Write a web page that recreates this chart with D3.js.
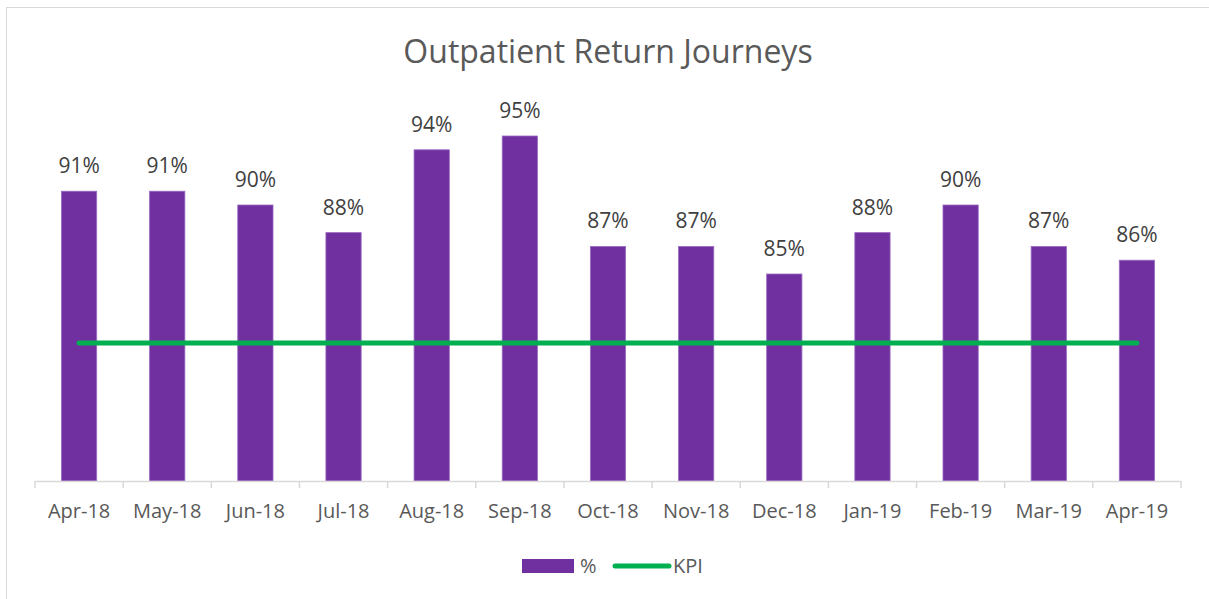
<!DOCTYPE html>
<html lang="en">
<head>
    <meta charset="UTF-8">
    <title>Outpatient Return Journeys</title>
    <script src="https://d3js.org/d3.v7.min.js"></script>
    <style>
        body { margin: 0; background: #fff; }
        text { font-family: "Open Sans", "Noto Sans", sans-serif; }
    </style>
</head>
<body>
    <svg id="chart" width="1209" height="599"></svg>
    <script>
        // Chart data
        const months = ["Apr-18", "May-18", "Jun-18", "Jul-18", "Aug-18", "Sep-18", "Oct-18",
            "Nov-18", "Dec-18", "Jan-19", "Feb-19", "Mar-19", "Apr-19"];
        const pctValues = [0.91, 0.91, 0.90, 0.88, 0.94, 0.95, 0.87, 0.87, 0.85, 0.88, 0.90, 0.87, 0.86];
        const kpiValues = [0.80, 0.80, 0.80, 0.80, 0.80, 0.80, 0.80, 0.80, 0.80, 0.80, 0.80, 0.80, 0.80];

        const purple = "#7030a0", green = "#00b050";
        const svg = d3.select("#chart");

        // chart border
        svg.append("rect")
            .attr("x", 6.5).attr("y", 7.5)
            .attr("width", 1240).attr("height", 640)
            .attr("fill", "none").attr("stroke", "#d9d9d9");

        const left = 35, right = 1181, baseY = 481;

        const x = d3.scaleBand()
            .domain(months)
            .range([left, right])
            .paddingInner(0.6)
            .paddingOuter(0.3);

        const y = d3.scaleLinear()
            .domain([0.7, 1.0])
            .range([baseY, baseY - 0.3 * 1380]);

        // Title
        svg.append("text")
            .attr("x", 608).attr("y", 63)
            .attr("text-anchor", "middle")
            .attr("font-size", 32)
            .attr("fill", "#595959")
            .text("Outpatient Return Journeys");

        // Bars
        svg.selectAll(".bar")
            .data(months)
            .enter().append("rect")
            .attr("class", "bar")
            .attr("x", d => x(d))
            .attr("y", (d, i) => y(pctValues[i]))
            .attr("width", x.bandwidth())
            .attr("height", (d, i) => baseY - y(pctValues[i]))
            .attr("fill", purple)
            .attr("stroke", "#9a6cc2")
            .attr("stroke-width", 0.8);

        // Data labels
        svg.selectAll(".lbl")
            .data(months)
            .enter().append("text")
            .attr("class", "lbl")
            .attr("x", d => x(d) + x.bandwidth() / 2)
            .attr("y", (d, i) => y(pctValues[i]) - 18)
            .attr("text-anchor", "middle")
            .attr("font-size", 21)
            .attr("fill", "#404040")
            .text((d, i) => d3.format(".0%")(pctValues[i]));

        // X axis
        const xAxis = d3.axisBottom(x).tickSize(0).tickPadding(37);
        const gx = svg.append("g")
            .attr("transform", `translate(0,${baseY})`)
            .call(xAxis);
        gx.select(".domain").remove();
        gx.selectAll("text")
            .attr("dy", 0)
            .attr("font-size", 20)
            .attr("fill", "#595959")
            .style("font-family", "'Open Sans', 'Noto Sans', sans-serif");

        svg.append("line")
            .attr("x1", left).attr("x2", right)
            .attr("y1", baseY + 0.5).attr("y2", baseY + 0.5)
            .attr("stroke", "#d9d9d9").attr("stroke-width", 1.5);

        const bounds = d3.range(months.length + 1).map(i => left + i * (right - left) / months.length);
        svg.selectAll(".tk")
            .data(bounds)
            .enter().append("line")
            .attr("x1", d => d).attr("x2", d => d)
            .attr("y1", baseY).attr("y2", baseY + 7)
            .attr("stroke", "#d9d9d9").attr("stroke-width", 1.5);

        // KPI line
        const kpiLine = d3.line()
            .x((d, i) => x(months[i]) + x.bandwidth() / 2)
            .y(d => y(d));
        svg.append("path")
            .datum(kpiValues)
            .attr("d", kpiLine)
            .attr("fill", "none")
            .attr("stroke", green)
            .attr("stroke-width", 5)
            .attr("stroke-linecap", "round");

        // Legend
        const lg = svg.append("g").attr("transform", "translate(522,566)");
        lg.append("rect")
            .attr("x", 0).attr("y", -7)
            .attr("width", 52).attr("height", 14)
            .attr("fill", purple);
        lg.append("text")
            .attr("x", 58).attr("y", 7)
            .attr("font-size", 20).attr("fill", "#595959")
            .text("%");
        lg.append("line")
            .attr("x1", 93).attr("x2", 147)
            .attr("y1", 0).attr("y2", 0)
            .attr("stroke", green).attr("stroke-width", 5)
            .attr("stroke-linecap", "round");
        lg.append("text")
            .attr("x", 151).attr("y", 7)
            .attr("font-size", 20).attr("fill", "#595959")
            .text("KPI");
    </script>
</body>
</html>
